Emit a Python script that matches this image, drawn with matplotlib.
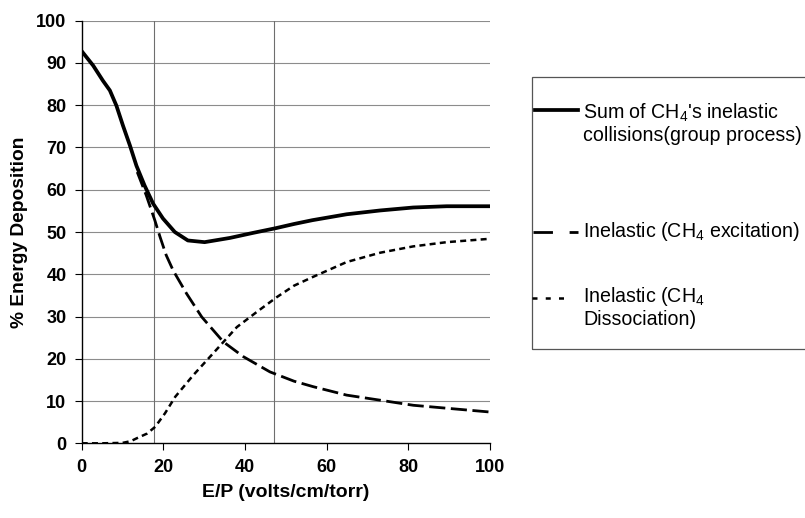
import numpy as np
import matplotlib
matplotlib.use("Agg")
import matplotlib.pyplot as plt
from matplotlib.lines import Line2D
from matplotlib.patches import Rectangle

plt.rcParams['font.family'] = ['Liberation Sans', 'DejaVu Sans']
plt.rcParams['mathtext.default'] = 'regular'

# values
sum_x = [0, 2.8, 5.2, 6.9, 8.5, 10.1, 11.8, 13.4, 15.4, 17.5, 19.9, 22.8, 26.0,
         30.1, 36.3, 42.0, 47.5, 52.0, 56.5, 64.9, 73.1, 81.2, 89.4, 100]
sum_y = [92.8, 89.4, 85.8, 83.5, 79.9, 75.2, 70.5, 65.7, 61.0, 56.7, 53.2, 50.0, 48.0,
         47.6, 48.6, 49.8, 50.9, 51.9, 52.8, 54.2, 55.1, 55.8, 56.1, 56.1]

exc_x = [13.6, 15.8, 17.9, 19.2, 20.7, 22.4, 25.7, 29.4, 34.7, 39.6, 46.1,
         52.0, 56.7, 64.9, 73.1, 81.2, 89.4, 100]
exc_y = [64.2, 58.7, 52.8, 48.8, 44.5, 40.9, 35.4, 29.9, 24.0, 20.5, 16.9,
         14.7, 13.4, 11.4, 10.2, 9.0, 8.3, 7.4]

dis_x = [0, 5, 10, 12, 13.5, 16, 18.0, 20.4, 22.9, 27.3, 32.2, 38.0, 42.9,
         47.8, 52.0, 56.7, 64.9, 73.1, 81.2, 89.4, 100]
dis_y = [0, 0, 0.1, 0.5, 1.2, 2.3, 3.9, 7.1, 11.0, 16.1, 21.3, 27.5, 31.1,
         34.6, 37.3, 39.4, 42.9, 45.1, 46.6, 47.6, 48.4]

vlines_x = [17.8, 47.2]

labels = ["Sum of CH$_4$'s inelastic\ncollisions(group process)",
          "Inelastic (CH$_4$ excitation)",
          "Inelastic (CH$_4$\nDissociation)"]

fig = plt.figure(figsize=(8.05, 5.18), dpi=100)
ax = fig.add_axes([0.1015, 0.1442, 0.5072, 0.8158])

for y in range(10, 101, 10):
    ax.axhline(y, color='#8c8c8c', lw=0.8, zorder=1)
for v in vlines_x:
    ax.axvline(v, color='#6e6e6e', lw=0.8, zorder=1)

ax.plot(sum_x, sum_y, color='black', lw=2.7, solid_joinstyle='round', zorder=3)
ax.plot(exc_x, exc_y, color='black', lw=2.0, dashes=(5.8, 2.0), zorder=3)
ax.plot(dis_x, dis_y, color='black', lw=1.8, dashes=(2.4, 1.7), zorder=3)

ax.set_xlim(0, 100)
ax.set_ylim(0, 100)
ax.set_xticks(range(0, 101, 20))
ax.set_yticks(range(0, 101, 10))
ax.spines['top'].set_visible(False)
ax.spines['right'].set_visible(False)
ax.spines['left'].set_linewidth(1.0)
ax.spines['bottom'].set_linewidth(1.0)
ax.tick_params(direction='out', length=5, width=0.8, labelsize=13, pad=6)
for t in ax.get_xticklabels() + ax.get_yticklabels():
    t.set_fontweight('bold')
ax.set_xlabel('E/P (volts/cm/torr)', fontsize=14, fontweight='bold', labelpad=6)
ax.set_ylabel('% Energy Deposition', fontsize=13.8, fontweight='bold', labelpad=6)

# legend box drawn by hand, open at the right edge like the reference
W, H = 805.0, 518.0
fig.patches.append(Rectangle((531.7 / W, 1 - 349 / H), 290 / W, 272.3 / H,
                             transform=fig.transFigure, fill=False,
                             edgecolor='#555555', lw=0.9))
handles = [dict(lw=2.7, dashes=None, x=(535, 578), y=110),
           dict(lw=2.0, dashes=(7, 6), x=(532.7, 578), y=231.7),
           dict(lw=1.8, dashes=(2.0, 3.3), x=(531.7, 563.5), y=298)]
# baseline of the last text line of each entry
baselines = [141, 237, 325]
for h, lab, b in zip(handles, labels, baselines):
    ln = Line2D([h['x'][0] / W, h['x'][1] / W], [1 - h['y'] / H] * 2,
                transform=fig.transFigure, color='black', lw=h['lw'])
    if h['dashes'] is not None:
        ln.set_dashes(h['dashes'])
    fig.lines.append(ln)
    fig.text(583.0 / W, 1 - b / H, lab, fontsize=14.1, va='baseline', ha='left',
             linespacing=1.12)

fig.savefig('out.png', dpi=100)
